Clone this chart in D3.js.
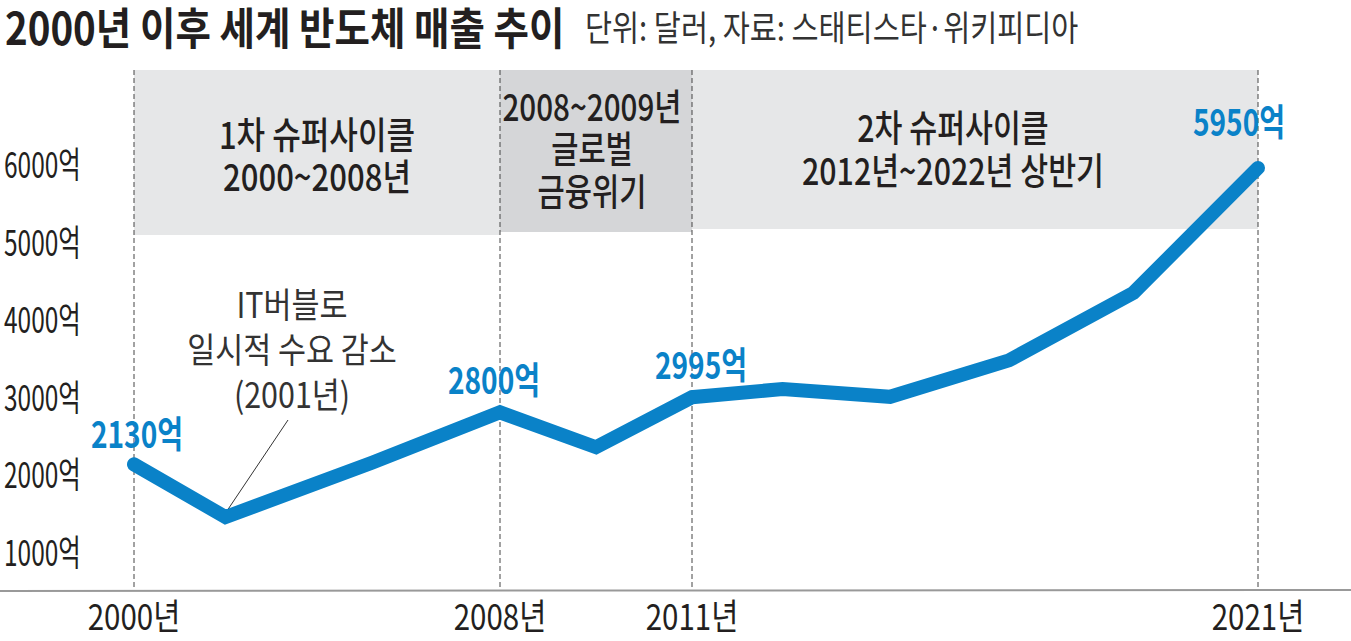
<!DOCTYPE html>
<html>
<head>
<meta charset="utf-8">
<script src="https://cdn.jsdelivr.net/npm/d3@7"></script>
<style>
  body { margin: 0; background: #fff; }
  text { font-family: "Noto Sans CJK KR", "Noto Sans", sans-serif; }
</style>
</head>
<body>
<svg id="CHART" width="1351" height="641"></svg>
<script>
// data (억 달러)
var years  = [2000, 2002.0, 2005.2, 2008, 2009.5, 2011, 2012.6, 2014.5, 2016.6, 2018.8, 2021];
var sales  = [2130, 1450, 2150, 2800, 2350, 2995, 3100, 3000, 3470, 4340, 5950];
var yTicks = [1000, 2000, 3000, 4000, 5000, 6000];
var xTicks = [2000, 2008, 2011, 2021];
var periodStart = [2000, 2008, 2011];
var periodEnd   = [2008, 2011, 2021];
var periodText  = [["1차 슈퍼사이클", "2000~2008년"],
                   ["2008~2009년", "글로벌", "금융위기"],
                   ["2차 슈퍼사이클", "2012년~2022년 상반기"]];
var labelYears  = [2000, 2008, 2011, 2021];
var labelValues = [2130, 2800, 2995, 5950];
var noteText = ["IT버블로", "일시적 수요 감소", "(2001년)"];

var title = "2000년 이후 세계 반도체 매출 추이";
var subtitle = "단위: 달러, 자료: 스태티스타·위키피디아";

var BLUE = "#0a82c8";
var svg = d3.select("#CHART");

// x is squeezed/stretched per period like the print graphic
var x = d3.scaleLinear()
  .domain([2000, 2008, 2011, 2021])
  .range([134, 500, 692, 1258]);

var y = d3.scaleLinear()
  .domain([1000, 6000])
  .range([552, 164]);

var data = years.map(function(d, i) { return {year: d, value: sales[i]}; });

// condensed text helper
function txt(g, px, py, s, size, sx, weight, fill, anchor) {
  return g.append("text")
    .attr("transform", "translate(" + px + "," + py + ") scale(" + sx + ",1)")
    .attr("text-anchor", anchor || "middle")
    .style("font-size", size + "px")
    .style("font-weight", weight)
    .attr("fill", fill)
    .text(s);
}

// title
txt(svg, 5, 45, title, 44, 0.875, 700, "#231f20", "start");
txt(svg, 585, 41, subtitle, 35, 0.84, 400, "#333", "start");

// period bands
var bandTop = 70, bandBottom = [235, 232, 229];
svg.selectAll("rect.band")
  .data(periodStart)
  .enter().append("rect")
  .attr("class", "band")
  .attr("x", function(d) { return x(d); })
  .attr("y", bandTop)
  .attr("width", function(d, i) { return x(periodEnd[i]) - x(d); })
  .attr("height", function(d, i) { return bandBottom[i] - bandTop; })
  .attr("fill", function(d, i) { return i == 1 ? "#d5d6d8" : "#e6e7e8"; });

var lineTops = [[149, 191], [121, 163, 206], [142, 185]];
var bandSx = [0.84, 0.8, 0.82];
periodText.forEach(function(lines, i) {
  var cx = (x(periodStart[i]) + x(periodEnd[i])) / 2;
  if (i == 1) cx -= 4;
  if (i == 2) cx -= 22;
  lines.forEach(function(s, j) {
    txt(svg, cx, lineTops[i][j], s, 37, bandSx[i], 500, "#231f20");
  });
});

// dashed year lines
svg.selectAll("line.grid")
  .data(xTicks)
  .enter().append("line")
  .attr("class", "grid")
  .attr("x1", function(d) { return x(d); })
  .attr("x2", function(d) { return x(d); })
  .attr("y1", bandTop)
  .attr("y2", 591)
  .attr("stroke", "#444")
  .attr("stroke-width", 1)
  .attr("stroke-dasharray", "5,3");

// baseline
svg.append("line")
  .attr("x1", 0).attr("x2", 1351)
  .attr("y1", 591).attr("y2", 590)
  .attr("stroke", "#999")
  .attr("stroke-width", 2);

// y labels
yTicks.forEach(function(v) {
  txt(svg, 4, y(v) + 14, v + "억", 36, 0.68, 400, "#231f20", "start");
});

// x labels
xTicks.forEach(function(v) {
  txt(svg, x(v), 630, v + "년", 36, 0.82, 400, "#231f20");
});

// note + leader
svg.append("line")
  .attr("x1", 288).attr("y1", 420)
  .attr("x2", x(years[1])).attr("y2", y(sales[1]) - 4)
  .attr("stroke", "#333")
  .attr("stroke-width", 1);
noteText.forEach(function(s, j) {
  txt(svg, 292, 318 + j * 45, s, 35, 0.87, 400, "#333");
});

// the line
var line = d3.line()
  .x(function(d) { return x(d.year); })
  .y(function(d) { return y(d.value); });

svg.append("path")
  .datum(data)
  .attr("d", line)
  .attr("fill", "none")
  .attr("stroke", BLUE)
  .attr("stroke-width", 14)
  .attr("stroke-linejoin", "miter")
  .attr("stroke-linecap", "round");

// value labels
var labelShift = {2000: [3, -16], 2008: [-6, -18], 2011: [9, -18], 2021: [-19, -32]};
labelYears.forEach(function(yr, i) {
  var off = labelShift[yr];
  txt(svg, x(yr) + off[0], y(labelValues[i]) + off[1], labelValues[i] + "억", 37, 0.76, 700, BLUE);
});
</script>
</body>
</html>
